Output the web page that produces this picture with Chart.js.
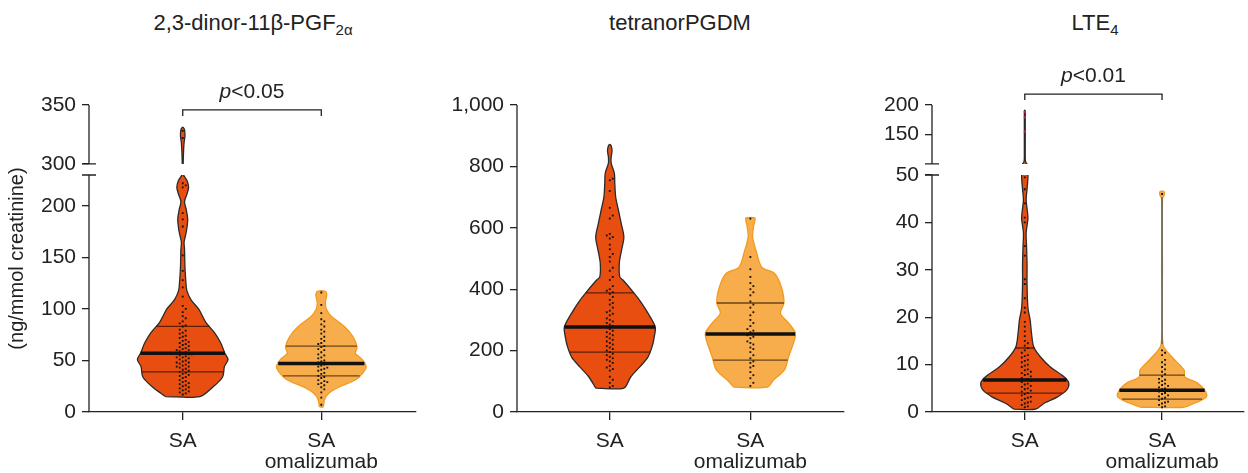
<!DOCTYPE html>
<html>
<head>
<meta charset="utf-8">
<script src="https://cdn.jsdelivr.net/npm/chart.js@4.4.1/dist/chart.umd.min.js"></script>
<style>
  html, body { margin: 0; padding: 0; background: #fff; }
  body { width: 1248px; height: 473px; position: relative; overflow: hidden;
         font-family: "Liberation Sans", Arial, sans-serif; color: #222; }
  .panel { position: absolute; top: 0; height: 473px; }
  .title { position: absolute; top: 10px; line-height: 26px; font-size: 22px;
           white-space: nowrap; transform: translateX(-50%); }
  .title sub { font-size: 15px; vertical-align: -5px; line-height: 0; }
</style>
</head>
<body>
<div class="title" style="left:253px">2,3-dinor-11β-PGF<sub>2α</sub></div>
<div class="title" style="left:680px">tetranorPGDM</div>
<div class="title" style="left:1095px">LTE<sub>4</sub></div>
<div class="panel" style="left:0;width:420px"><canvas id="c1"></canvas></div>
<div class="panel" style="left:428px;width:420px"><canvas id="c2"></canvas></div>
<div class="panel" style="left:843px;width:405px"><canvas id="c3"></canvas></div>
<script>
// ---- data ----
const xLabels = ['SA', ['SA', 'omalizumab']];

// 2,3-dinor-11β-PGF2α
const pgfTicks = [0, 50, 100, 150, 200, 300, 350];
const pgfSaLevels = [15, 24, 34, 44, 51, 57, 67, 77, 87, 100, 109, 118, 126, 140, 158, 165, 175, 187, 196, 204, 211, 218, 224, 230, 265, 300, 312, 318, 324, 329, 331];
const pgfSaDens   = [38, 66, 88, 92, 100, 93, 84, 70, 51, 35, 18, 9, 7, 5, 4, 3, 8, 11, 8, 4, 9, 13, 10, 2, 1, 1, 2, 3, 5, 4, 1];
const pgfSaQuart  = [39, 57, 83];
const pgfSaDots   = [328, 322, 222, 220, 218, 193, 187, 180, 152, 137, 128, 121, 112, 103, 100, 97,
  93, 91, 88, 86, 84, 83, 80, 79, 77, 76, 74, 73, 72, 70, 69, 68, 67, 66, 65, 64, 63, 62, 61, 60, 60,
  59, 58, 57, 56, 56, 55, 54, 53, 53, 52, 51, 50, 49, 48, 48, 47, 46, 45, 44, 44, 43, 42, 41, 40, 39,
  38, 37, 36, 35, 34, 33, 31, 30, 29, 28, 27, 26, 25, 24, 23, 22, 21, 20, 19, 18, 17];
const pgfOmLevels = [5, 12, 18, 24, 31, 38, 44, 51, 57, 63, 73, 83, 93, 100, 106, 111, 114, 117];
const pgfOmDens   = [4, 7, 16, 38, 75, 92, 99, 90, 75, 79, 70, 51, 22, 11, 9, 11, 12, 9];
const pgfOmQuart  = [35, 47, 64];
const pgfOmDots   = [116, 104, 96, 90, 88, 85, 83, 80, 78, 76, 73, 71, 69, 67, 66, 64, 63, 61, 60, 58,
  56, 55, 53, 52, 50, 49, 48, 47, 46, 45, 44, 43, 42, 41, 40, 38, 37, 35, 34, 33, 31, 30, 29, 28, 27,
  26, 24, 22, 19, 14, 7];

// tetranorPGDM
const pgdmTicks = [0, 200, 400, 600, 800, 1000];
const pgdmSaLevels = [78, 114, 147, 179, 212, 245, 277, 322, 355, 388, 430, 440, 485, 528, 570, 615, 658, 700, 746, 778, 811, 830, 850, 862, 870];
const pgdmSaDens   = [31, 46, 66, 84, 93, 98, 100, 84, 70, 53, 29, 22, 21, 26, 31, 25, 19, 13, 11, 10, 3, 3, 5, 4, 2];
const pgdmSaQuart  = [195, 277, 388];
const pgdmSaDots   = [760, 755, 720, 665, 640, 630, 580, 575, 570, 565, 545, 530, 515, 505, 490, 470,
  460, 440, 430, 410, 400, 395, 390, 385, 375, 365, 355, 350, 340, 330, 325, 320, 315, 305, 300, 295,
  290, 285, 280, 275, 270, 265, 260, 255, 250, 245, 240, 235, 230, 225, 220, 215, 210, 205, 200, 195,
  190, 185, 180, 175, 170, 165, 160, 150, 145, 140, 135, 115, 105, 95, 85, 80];
const pgdmOmLevels = [81, 104, 137, 179, 225, 257, 290, 322, 355, 408, 452, 472, 518, 570, 603, 625, 632];
const pgdmOmDens   = [37, 51, 75, 84, 95, 99, 84, 66, 74, 68, 53, 25, 14, 5, 7, 10, 10];
const pgdmOmQuart  = [169, 254, 355];
const pgdmOmDots   = [630, 505, 465, 440, 420, 410, 400, 390, 380, 360, 350, 340, 325, 315, 300, 290,
  280, 270, 265, 260, 250, 245, 240, 230, 225, 220, 210, 205, 195, 185, 175, 165, 160, 150, 145, 130,
  120, 110, 95, 85];

// LTE4
const lteTicks = [0, 10, 20, 30, 40, 50, 150, 200];
const lteSaLevels = [0.6, 1.9, 3.2, 4.6, 6.1, 7.4, 9.5, 11.6, 13.7, 16.6, 19.4, 22, 27, 31, 34.8, 37.8, 41, 44.7, 47, 50, 75, 100, 103, 110, 190, 191];
const lteSaDens   = [24, 44, 73, 93, 98, 88, 57, 35, 20, 15, 12, 7, 5, 5, 4, 3, 7, 3, 5, 7, 3, 5, 2, 1, 1, 0];
const lteSaQuart  = [4.0, 6.75, 13.5];
const lteSaDots   = [49.5, 47, 44, 41, 40, 35, 33, 28, 27, 24, 22, 21, 19, 18, 17, 16, 15, 14.5, 14,
  13.5, 13, 12.5, 12, 11.8, 11.5, 11, 10.8, 10.5, 10, 9.8, 9.5, 9, 8.8, 8.5, 8.2, 8, 7.8, 7.5, 7.2, 7,
  6.8, 6.5, 6.3, 6, 5.8, 5.5, 5.3, 5, 4.8, 4.5, 4.3, 4, 3.8, 3.5, 3.2, 3, 2.8, 2.5, 2.2, 2, 1.8, 1.5,
  1.2, 1];
const lteSaHigh   = [188, 179, 155];
const lteOmLevels = [1.0, 1.9, 3.2, 4.6, 6.1, 7.4, 8.9, 11.6, 14.3, 30, 45, 45.8, 46.4, 46.6];
const lteOmDens   = [48, 73, 99, 95, 79, 51, 49, 22, 2, 1, 1, 5, 5, 1];
const lteOmQuart  = [2.7, 4.6, 7.8];
const lteOmDots   = [46, 13, 12.5, 12, 11, 10.5, 10, 9.5, 9, 8.5, 8, 7.5, 7, 6.8, 6.5, 6.2, 6, 5.7,
  5.5, 5.2, 5, 4.8, 4.5, 4.3, 4, 3.8, 3.5, 3.3, 3, 2.8, 2.5, 2.2, 2, 1.8, 1.5, 1.2, 1];
const lteOmStem   = [14.3, 45.3];

// ---- styles ----
const groupStyle = [
  { fill: '#E84E0F', line: '#2a2a2a', quart: 'rgba(70,25,5,0.85)' },
  { fill: '#F7AD4C', line: '#F29A1E', quart: 'rgba(80,50,15,0.85)' }
];
const INK = '#222';
const FONT = '"Liberation Sans", Arial, sans-serif';
const FS = 21;

// ---- y scale with an optional break ----
class BrokenLinearScale extends Chart.LinearScale {
  _dec(v) {
    const b = this.options.brk, min = this.min, max = this.max;
    if (!b) return (v - min) / (max - min);
    if (v <= b.lowMax) return (v - min) / (b.lowMax - min) * b.lowFrac;
    if (v >= b.highMin) return b.highFrac + (v - b.highMin) / (max - b.highMin) * (1 - b.highFrac);
    return b.lowFrac + (v - b.lowMax) / (b.highMin - b.lowMax) * (b.highFrac - b.lowFrac);
  }
  getPixelForValue(value) {
    if (value === null || value === undefined || isNaN(value)) return NaN;
    return this.getPixelForDecimal(this._dec(value));
  }
  getValueForPixel(pixel) {
    const d = this.getDecimalForPixel(pixel), b = this.options.brk, min = this.min, max = this.max;
    if (!b) return min + d * (max - min);
    if (d <= b.lowFrac) return min + d / b.lowFrac * (b.lowMax - min);
    if (d >= b.highFrac) return b.highMin + (d - b.highFrac) / (1 - b.highFrac) * (max - b.highMin);
    return b.lowMax + (d - b.lowFrac) / (b.highFrac - b.lowFrac) * (b.highMin - b.lowMax);
  }
}
BrokenLinearScale.id = 'brokenLinear';
BrokenLinearScale.defaults = Chart.LinearScale.defaults;
Chart.register(BrokenLinearScale);

// ---- helpers ----
function widthAt(levels, dens, v) {
  for (let i = 1; i < levels.length; i++) {
    if (v <= levels[i]) {
      const t = (v - levels[i - 1]) / (levels[i] - levels[i - 1]);
      return dens[i - 1] + t * (dens[i] - dens[i - 1]);
    }
  }
  return dens[dens.length - 1];
}

function violinPath(c, levels, dens, half) {
  const left = levels.map((v, i) => ({ x: c - dens[i] / 100 * half, y: v }));
  const right = levels.map((v, i) => ({ x: c + dens[i] / 100 * half, y: v })).reverse();
  return left.concat(right, [left[0]]);
}

// simple beeswarm: nearest free slot to the centre line, in pixels
function swarm(values, c, xs, ys, stepX, stepY) {
  const placed = [];
  const res = new Array(values.length);
  const idx = values.map((v, i) => i).sort((a, b) => values[a] - values[b]);
  const cx = xs.getPixelForValue(c);
  idx.forEach(i => {
    const py = ys.getPixelForValue(values[i]);
    for (let k = 0; k < 40; k++) {
      const px = cx + (k % 2 ? 1 : -1) * Math.ceil(k / 2) * stepX;
      const hit = placed.some(p => Math.abs(p[0] - px) < stepX - 0.01 && Math.abs(p[1] - py) < stepY);
      if (!hit) { placed.push([px, py]); res[i] = { x: xs.getValueForPixel(px), y: values[i] }; break; }
    }
  });
  return res;
}

// break clip, axis segments and the p-value bracket
const panelPlugin = {
  id: 'panelDeco',
  beforeDatasetsDraw(chart) {
    const y = chart.scales.y, b = y.options.brk;
    if (!b) return;
    const ctx = chart.ctx;
    const pLow = y.getPixelForValue(b.lowMax), pHigh = y.getPixelForValue(b.highMin);
    ctx.save();
    ctx.beginPath();
    ctx.rect(0, pLow, chart.width, chart.height - pLow);
    ctx.rect(0, 0, chart.width, pHigh);
    ctx.clip();
  },
  afterDatasetsDraw(chart) {
    if (chart.scales.y.options.brk) chart.ctx.restore();
  },
  afterDraw(chart) {
    const { ctx, scales: { x, y } } = chart;
    const b = y.options.brk, ax = y.right;
    ctx.save();
    ctx.strokeStyle = INK;
    ctx.lineWidth = 1.3;
    ctx.beginPath();
    if (b) {
      const pLow = y.getPixelForValue(b.lowMax), pHigh = y.getPixelForValue(b.highMin);
      ctx.moveTo(ax, y.bottom); ctx.lineTo(ax, pLow);
      ctx.moveTo(ax, pHigh); ctx.lineTo(ax, y.top);
      ctx.moveTo(ax - 7, pLow); ctx.lineTo(ax + 7, pLow);
      ctx.moveTo(ax - 7, pHigh); ctx.lineTo(ax + 7, pHigh);
    } else {
      ctx.moveTo(ax, y.bottom); ctx.lineTo(ax, y.top);
    }
    ctx.stroke();

    const pv = chart.options.plugins.panelDeco;
    if (pv && pv.text) {
      const x1 = x.getPixelForValue(1), x2 = x.getPixelForValue(2), yb = y.getPixelForValue(pv.at);
      ctx.beginPath();
      ctx.moveTo(x1, yb + 6); ctx.lineTo(x1, yb); ctx.lineTo(x2, yb); ctx.lineTo(x2, yb + 6);
      ctx.stroke();
      ctx.fillStyle = INK;
      ctx.textBaseline = 'middle';
      ctx.font = 'italic ' + FS + 'px ' + FONT;
      const w1 = ctx.measureText('p').width;
      ctx.font = FS + 'px ' + FONT;
      const w2 = ctx.measureText(pv.text).width;
      const sx = (x1 + x2) / 2 - (w1 + w2) / 2, ty = yb - 18;
      ctx.font = 'italic ' + FS + 'px ' + FONT;
      ctx.fillText('p', sx, ty);
      ctx.font = FS + 'px ' + FONT;
      ctx.fillText(pv.text, sx + w1, ty);
    }
    ctx.restore();
  }
};

function buildPanel(p) {
  const datasets = [];
  p.groups.forEach((g, gi) => {
    const c = gi + 1, st = groupStyle[gi];
    datasets.push({
      data: violinPath(c, g.levels, g.dens, p.half), showLine: true, fill: 'shape',
      backgroundColor: st.fill, borderColor: st.line, borderWidth: 1.3, pointRadius: 0,
      tension: 0.3, order: 6
    });
    if (g.stem) {
      datasets.push({
        data: g.stem.map(v => ({ x: c, y: v })), showLine: true, borderColor: '#666',
        borderWidth: 1.6, pointRadius: 0, order: 5
      });
    }
    g.quart.forEach((q, qi) => {
      const w = widthAt(g.levels, g.dens, q) / 100 * p.half;
      datasets.push({
        data: [{ x: c - w, y: q }, { x: c + w, y: q }], showLine: true,
        borderColor: qi === 1 ? '#111' : st.quart, borderWidth: qi === 1 ? 3.4 : 1.3,
        pointRadius: 0, order: 3
      });
    });
    datasets.push({
      data: g.dots.map(v => ({ x: c, y: v })), swarmAt: c, pointStyle: 'rect', pointRadius: 1.3,
      backgroundColor: '#111', borderWidth: 0, order: 1
    });
    if (g.high) {
      datasets.push({
        data: g.high.map(v => ({ x: c, y: v })), swarmAt: c, pointStyle: 'rect', pointRadius: 1.4,
        backgroundColor: '#e3184c', borderWidth: 0, order: 0
      });
    }
  });

  const chart = new Chart(document.getElementById(p.canvas), {
    type: 'scatter',
    data: { datasets },
    options: {
      responsive: true, maintainAspectRatio: false, animation: false, events: [],
      layout: { padding: { top: 105, right: p.padRight, bottom: 0, left: 0 } },
      plugins: { legend: { display: false }, tooltip: { enabled: false }, panelDeco: p.pval || {} },
      scales: {
        x: {
          type: 'linear', min: p.xMin, max: p.xMax, bounds: 'data',
          afterBuildTicks: s => { s.ticks = [1, 2].map(v => ({ value: v })); },
          afterFit: s => { s.height = 61; },
          grid: { drawOnChartArea: false, tickLength: 8, color: INK, lineWidth: 1.3 },
          border: { color: INK, width: 1.3 },
          ticks: {
            padding: 10, color: INK, autoSkip: false, maxRotation: 0,
            font: { family: FONT, size: FS, lineHeight: 1.03 },
            callback: v => xLabels[v - 1]
          }
        },
        y: {
          type: 'brokenLinear', min: 0, max: p.yMax, brk: p.brk,
          afterBuildTicks: s => { s.ticks = p.ticks.map(v => ({ value: v })); },
          afterFit: s => { s.width = 89; },
          grid: { drawOnChartArea: false, tickLength: 7, color: INK, lineWidth: 1.3 },
          border: { display: false },
          ticks: { padding: 6, color: INK, autoSkip: false, font: { family: FONT, size: FS } },
          title: {
            display: !!p.yTitle, text: p.yTitle || '', color: INK,
            font: { family: FONT, size: 20 }, padding: { top: 5, bottom: 0 }
          }
        }
      }
    },
    plugins: [panelPlugin]
  });

  chart.data.datasets.forEach(d => {
    if (d.swarmAt) d.data = swarm(d.data.map(pt => pt.y), d.swarmAt, chart.scales.x, chart.scales.y, 3, 3.6);
  });
  chart.update('none');
  return chart;
}

buildPanel({
  canvas: 'c1', yMax: 350, ticks: pgfTicks, yTitle: '(ng/mmol creatinine)',
  brk: { lowMax: 230, highMin: 300, lowFrac: 0.772, highFrac: 0.808 },
  xMin: 0.3237, xMax: 2.6834, half: 0.327, padRight: 3,
  pval: { text: '<0.05', at: 345.8 },
  groups: [
    { levels: pgfSaLevels, dens: pgfSaDens, quart: pgfSaQuart, dots: pgfSaDots },
    { levels: pgfOmLevels, dens: pgfOmDens, quart: pgfOmQuart, dots: pgfOmDots }
  ]
});

buildPanel({
  canvas: 'c2', yMax: 1000, ticks: pgdmTicks,
  xMin: 0.340, xMax: 2.666, half: 0.323, padRight: 3,
  groups: [
    { levels: pgdmSaLevels, dens: pgdmSaDens, quart: pgdmSaQuart, dots: pgdmSaDots },
    { levels: pgdmOmLevels, dens: pgdmOmDens, quart: pgdmOmQuart, dots: pgdmOmDots }
  ]
});

buildPanel({
  canvas: 'c3', yMax: 200, ticks: lteTicks,
  brk: { lowMax: 50, highMin: 100, lowFrac: 0.772, highFrac: 0.808 },
  xMin: 0.324, xMax: 2.597, half: 0.327, padRight: 0,
  pval: { text: '<0.01', at: 218.6 },
  groups: [
    { levels: lteSaLevels, dens: lteSaDens, quart: lteSaQuart, dots: lteSaDots, high: lteSaHigh },
    { levels: lteOmLevels, dens: lteOmDens, quart: lteOmQuart, dots: lteOmDots, stem: lteOmStem }
  ]
});
</script>
</body>
</html>
